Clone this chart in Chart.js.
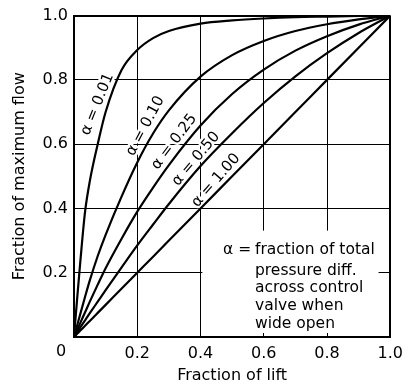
<!DOCTYPE html>
<html lang="en">
<head>
    <meta charset="UTF-8">
    <title>Installed valve characteristics</title>
    <style>
        body { margin: 0; background: #fff; }
        #chart { display: block; }
    </style>
</head>
<body>
    <canvas id="chart" width="410" height="389"></canvas>

    <script src="https://cdn.jsdelivr.net/npm/chart.js"></script>
    <script>
        // values
        const lift = [0, 0.01, 0.02, 0.035, 0.05, 0.075, 0.1, 0.15, 0.2, 0.25, 0.3, 0.4, 0.5, 0.6, 0.7, 0.8, 0.9, 1.0];
        const flowA001 = [0, 0.12, 0.235, 0.39, 0.485, 0.60, 0.70, 0.83, 0.893, 0.93, 0.952, 0.975, 0.985, 0.991, 0.995, 0.997, 0.999, 1];
        const flowA010 = [0, 0.036, 0.072, 0.125, 0.176, 0.252, 0.318, 0.436, 0.543, 0.633, 0.705, 0.81, 0.877, 0.921, 0.952, 0.973, 0.988, 1];
        const flowA025 = [0, 0.022, 0.044, 0.077, 0.11, 0.163, 0.214, 0.305, 0.39, 0.465, 0.535, 0.658, 0.756, 0.832, 0.891, 0.936, 0.972, 1];
        const flowA050 = [0, 0.015, 0.03, 0.052, 0.074, 0.11, 0.146, 0.216, 0.285, 0.35, 0.414, 0.532, 0.634, 0.728, 0.811, 0.883, 0.946, 1];
        const flowA100 = [0, 0.01, 0.02, 0.035, 0.05, 0.075, 0.1, 0.15, 0.2, 0.25, 0.3, 0.4, 0.5, 0.6, 0.7, 0.8, 0.9, 1.0];
        const curveNames = ['α = 0.01', 'α = 0.10', 'α = 0.25', 'α = 0.50', 'α = 1.00'];
        const tickValues = [0, 0.2, 0.4, 0.6, 0.8, 1.0];
        const noteLines = ['fraction of total', 'pressure diff.', 'across control', 'valve when', 'wide open'];

        const FONT = '"DejaVu Sans", sans-serif';

        // where the curve names sit (data units) and their slant
        const curveLabelPos = [
            { x: 0.074, y: 0.724, angle: -68 },
            { x: 0.226, y: 0.656, angle: -62 },
            { x: 0.317, y: 0.607, angle: -53 },
            { x: 0.386, y: 0.554, angle: -50 },
            { x: 0.449, y: 0.487, angle: -49 }
        ];

        const series = [flowA001, flowA010, flowA025, flowA050, flowA100];
        const datasets = series.map((vals, i) => ({
            label: curveNames[i],
            data: lift.map((l, j) => ({ x: l, y: vals[j] })),
            borderColor: '#000',
            borderWidth: 2.2,
            pointRadius: 0,
            fill: false,
            cubicInterpolationMode: 'monotone'
        }));

        function drawCurveNames(chart, mask) {
            const { ctx, scales: { x, y } } = chart;
            ctx.save();
            ctx.font = '15px ' + FONT;
            ctx.textAlign = 'center';
            ctx.textBaseline = 'middle';
            curveNames.forEach((name, i) => {
                const p = curveLabelPos[i];
                ctx.save();
                ctx.translate(x.getPixelForValue(p.x), y.getPixelForValue(p.y));
                ctx.rotate(p.angle * Math.PI / 180);
                if (mask) {
                    ctx.strokeStyle = '#fff';
                    ctx.lineWidth = 5;
                    ctx.lineJoin = 'round';
                    ctx.strokeText(name, 0, 0);
                } else {
                    ctx.fillStyle = '#000';
                    ctx.fillText(name, 0, 0);
                }
                ctx.restore();
            });
            ctx.restore();
        }

        const notePlugin = {
            id: 'notes',
            beforeDatasetsDraw(chart) {
                const { ctx, scales: { x, y } } = chart;
                // white panel behind the explanation text
                const left = x.getPixelForValue(0.406);
                const right = x.getPixelForValue(0.963);
                const top = y.getPixelForValue(0.331);
                const bottom = y.getPixelForValue(0) - 4;
                ctx.save();
                ctx.fillStyle = '#fff';
                ctx.fillRect(left, top, right - left, bottom - top);
                ctx.restore();
                drawCurveNames(chart, true);
            },
            afterDatasetsDraw(chart) {
                const { ctx, scales: { x, y } } = chart;
                drawCurveNames(chart, false);

                ctx.save();
                ctx.fillStyle = '#000';
                ctx.font = '15.5px ' + FONT;
                ctx.textBaseline = 'alphabetic';
                ctx.textAlign = 'left';
                const baselines = [254, 274.5, 292, 310, 327.5];
                ctx.fillText('α =', 223, baselines[0]);
                noteLines.forEach((t, i) => ctx.fillText(t, 255, baselines[i]));

                // the shared "0" at the corner
                ctx.font = '16px ' + FONT;
                ctx.textAlign = 'center';
                ctx.textBaseline = 'top';
                ctx.fillText('0', x.getPixelForValue(0) - 13, chart.chartArea.bottom + 7);
                ctx.restore();
            }
        };

        const gridWidth = c => (c.tick && Math.abs(c.tick.value - 1) < 1e-6) ? 2 : 1;

        new Chart(document.getElementById('chart'), {
            type: 'line',
            data: { datasets },
            plugins: [notePlugin],
            options: {
                responsive: false,
                devicePixelRatio: 1,
                animation: false,
                layout: { padding: { top: 14, right: 13, left: 0, bottom: 0 } },
                plugins: { legend: { display: false }, tooltip: { enabled: false } },
                scales: {
                    x: {
                        type: 'linear',
                        min: 0, max: 1,
                        afterFit: s => { s.height = 52; },
                        afterBuildTicks: s => { s.ticks = tickValues.map(v => ({ value: v })); },
                        grid: { color: '#000', lineWidth: gridWidth, drawTicks: false },
                        border: { color: '#000', width: 2 },
                        ticks: {
                            color: '#000', padding: 7,
                            font: { family: FONT, size: 16 },
                            maxRotation: 0,
                            callback: v => v === 0 ? '' : v.toFixed(1)
                        },
                        title: {
                            display: true, text: 'Fraction of lift', color: '#000',
                            font: { family: FONT, size: 16 },
                            padding: { top: 0, bottom: 4 }
                        }
                    },
                    y: {
                        type: 'linear',
                        min: 0, max: 1,
                        afterFit: s => { s.width = 74; },
                        afterBuildTicks: s => { s.ticks = tickValues.map(v => ({ value: v })); },
                        grid: { color: '#000', lineWidth: gridWidth, drawTicks: false },
                        border: { color: '#000', width: 2 },
                        ticks: {
                            color: '#000', padding: 6,
                            font: { family: FONT, size: 16 },
                            callback: v => v === 0 ? '' : v.toFixed(1)
                        },
                        title: {
                            display: true, text: 'Fraction of maximum flow', color: '#000',
                            font: { family: FONT, size: 16 },
                            padding: { top: 10, bottom: 0 }
                        }
                    }
                }
            }
        });
    </script>
</body>
</html>
